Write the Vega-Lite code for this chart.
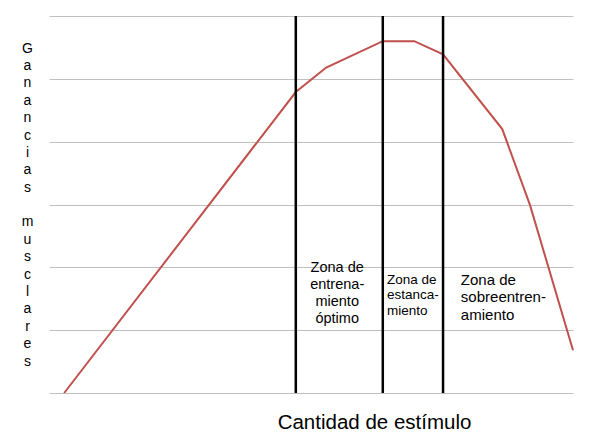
{
  "$schema": "https://vega.github.io/schema/vega-lite/v6.json",
  "autosize": {"type": "none"},
  "width": 524,
  "height": 377,
  "padding": {"left": 49, "top": 16, "right": 27, "bottom": 43},
  "background": "white",
  "config": {
    "view": {"stroke": null},
    "font": "Liberation Sans",
    "axis": {"labelFont": "Liberation Sans", "titleFont": "Liberation Sans"}
  },
  "datasets": {
    "curve": [
      {"estimulo": 2.9, "ganancia": 0},
      {"estimulo": 47.1, "ganancia": 4.79},
      {"estimulo": 52.9, "ganancia": 5.18},
      {"estimulo": 63.7, "ganancia": 5.6},
      {"estimulo": 69.7, "ganancia": 5.6},
      {"estimulo": 75.2, "ganancia": 5.39},
      {"estimulo": 86.5, "ganancia": 4.2},
      {"estimulo": 91.8, "ganancia": 2.99},
      {"estimulo": 100, "ganancia": 0.68}
    ],
    "limites": [
      {"estimulo": 47.1, "desde": 0, "hasta": 6},
      {"estimulo": 63.7, "desde": 0, "hasta": 6},
      {"estimulo": 75.2, "desde": 0, "hasta": 6}
    ],
    "zonas": [
      {"estimulo": 55.0, "ganancia": 1.99, "texto": "Zona de\nentrena-\nmiento\nóptimo"}
    ],
    "zonas2": [
      {"estimulo": 64.5, "ganancia": 1.80, "texto": "Zona de\nestanca-\nmiento"}
    ],
    "zonas3": [
      {"estimulo": 78.6, "ganancia": 1.80, "texto": "Zona de\nsobreentren-\namiento"}
    ]
  },
  "layer": [
    {
      "data": {"name": "curve"},
      "mark": {"type": "line", "color": "#c0504d", "strokeWidth": 2},
      "encoding": {
        "x": {
          "field": "estimulo", "type": "quantitative",
          "scale": {"domain": [0, 100], "nice": false, "zero": false},
          "axis": {
            "title": "Cantidad de estímulo",
            "titleFontSize": 20.5, "titleFontWeight": "normal", "titleColor": "black",
            "titleX": 325, "titleY": 35, "titleBaseline": "alphabetic", "titleAlign": "center",
            "labels": false, "ticks": false, "grid": false, "domain": false
          }
        },
        "y": {
          "field": "ganancia", "type": "quantitative",
          "scale": {"domain": [0, 6], "nice": false},
          "axis": {
            "title": ["G","a","n","a","n","c","i","a","s","\u200b","m","u","s","c","l","a","r","e","s"],
            "titleAngle": 0, "titleFontSize": 14, "titleFontWeight": "normal", "titleColor": "black",
            "titleLineHeight": 17.4, "titleX": -22, "titleY": 32,
            "titleAlign": "center", "titleBaseline": "middle",
            "labels": false, "ticks": false, "domain": false,
            "values": [0, 1, 2, 3, 4, 5, 6],
            "grid": true, "gridColor": "#c0c0c0", "gridWidth": 1.2
          }
        }
      }
    },
    {
      "data": {"name": "limites"},
      "mark": {"type": "rule", "color": "black", "strokeWidth": 2.5},
      "encoding": {
        "x": {"field": "estimulo", "type": "quantitative"},
        "y": {"field": "desde", "type": "quantitative", "axis": {"values": [0, 1, 2, 3, 4, 5, 6]}},
        "y2": {"field": "hasta"}
      }
    },
    {
      "data": {"name": "zonas"},
      "mark": {"type": "text", "lineBreak": "\n", "align": "center", "baseline": "middle", "fontSize": 14.5, "lineHeight": 17, "color": "black"},
      "encoding": {
        "x": {"field": "estimulo", "type": "quantitative"},
        "y": {"field": "ganancia", "type": "quantitative", "axis": {"values": [0, 1, 2, 3, 4, 5, 6]}},
        "text": {"field": "texto"}
      }
    },
    {
      "data": {"name": "zonas2"},
      "mark": {"type": "text", "lineBreak": "\n", "align": "left", "baseline": "middle", "fontSize": 13.5, "lineHeight": 15.5, "color": "black"},
      "encoding": {
        "x": {"field": "estimulo", "type": "quantitative"},
        "y": {"field": "ganancia", "type": "quantitative", "axis": {"values": [0, 1, 2, 3, 4, 5, 6]}},
        "text": {"field": "texto"}
      }
    },
    {
      "data": {"name": "zonas3"},
      "mark": {"type": "text", "lineBreak": "\n", "align": "left", "baseline": "middle", "fontSize": 15, "lineHeight": 17.5, "color": "black"},
      "encoding": {
        "x": {"field": "estimulo", "type": "quantitative"},
        "y": {"field": "ganancia", "type": "quantitative", "axis": {"values": [0, 1, 2, 3, 4, 5, 6]}},
        "text": {"field": "texto"}
      }
    }
  ]
}
